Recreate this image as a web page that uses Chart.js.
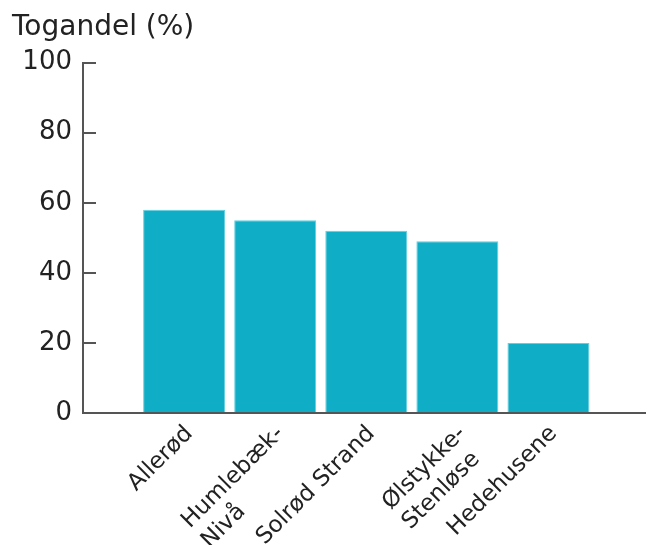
<!DOCTYPE html>
<html>
<head>
<meta charset="utf-8">
<script src="https://cdn.jsdelivr.net/npm/chart.js@4.4.1/dist/chart.umd.min.js"></script>
<style>
  html, body { margin: 0; padding: 0; background: #ffffff; }
  #wrap { width: 648px; height: 545px; }
</style>
</head>
<body>
<div id="wrap"><canvas id="c" width="648" height="545"></canvas></div>
<script>
// Stations and their share of trips by train
const categories = [
  'Allerød',
  ['Humlebæk-', 'Nivå'],
  'Solrød Strand',
  ['Ølstykke-', 'Stenløse'],
  'Hedehusene'
];
const togandel = [58, 55, 52, 49, 20];
const yTicks = [0, 20, 40, 60, 80, 100];
const yTitle = 'Togandel (%)';

const FONT = '"DejaVu Sans", Verdana, sans-serif';
const INK = '#222222';
const AXIS = '#555555';

// Rotated category labels, multi-line blocks left-aligned, anchored under each bar
const slantedLabels = {
  id: 'slantedLabels',
  afterDraw(chart) {
    const xs = chart.scales.x;
    const ctx = chart.ctx;
    const size = 23, lh = 28;
    ctx.save();
    ctx.font = size + 'px ' + FONT;
    ctx.fillStyle = INK;
    ctx.textAlign = 'left';
    ctx.textBaseline = 'top';
    categories.forEach((lab, i) => {
      const lines = Array.isArray(lab) ? lab : [lab];
      const w = Math.max(...lines.map(l => ctx.measureText(l).width));
      const px = xs.getPixelForValue(i) - 3;
      const py = xs.top + 9;
      ctx.save();
      ctx.translate(px, py);
      ctx.rotate(-Math.PI / 4);
      lines.forEach((l, j) => ctx.fillText(l, -w, j * lh));
      ctx.restore();
    });
    ctx.restore();
  }
};

new Chart(document.getElementById('c'), {
  type: 'bar',
  data: {
    datasets: [{
      data: togandel.map((v, i) => ({ x: i, y: v })),
      backgroundColor: '#10aec6',
      borderColor: '#62cfe0',
      borderWidth: 1,
      categoryPercentage: 1,
      barPercentage: 0.9
    }]
  },
  options: {
    responsive: false,
    animation: false,
    layout: { padding: { left: 12, right: 3, top: 0, bottom: 0 } },
    plugins: {
      legend: { display: false },
      tooltip: { enabled: false },
      title: {
        display: true,
        text: yTitle,
        align: 'start',
        color: INK,
        font: { family: FONT, size: 28, weight: 'normal' },
        padding: { top: 11, bottom: 18 }
      }
    },
    scales: {
      x: {
        type: 'linear',
        offset: false,
        min: -1.11,
        max: 5.06,
        grid: { display: false, offset: false },
        border: { display: true, color: AXIS, width: 2 },
        ticks: { display: false },
        afterBuildTicks(s) { s.ticks = categories.map((c, i) => ({ value: i })); },
        afterFit(s) { s.height = 132; }
      },
      y: {
        min: 0,
        max: 100,
        grid: {
          display: true,
          drawOnChartArea: false,
          drawTicks: true,
          tickLength: -13,
          color: AXIS,
          lineWidth: 2
        },
        border: { display: true, color: AXIS, width: 2 },
        ticks: {
          color: INK,
          font: { family: FONT, size: 26 },
          padding: 24,
          stepSize: 20
        },
        afterBuildTicks(s) { s.ticks = yTicks.map(v => ({ value: v })); },
        afterFit(s) { s.width = 71; }
      }
    }
  },
  plugins: [slantedLabels]
});
</script>
</body>
</html>
